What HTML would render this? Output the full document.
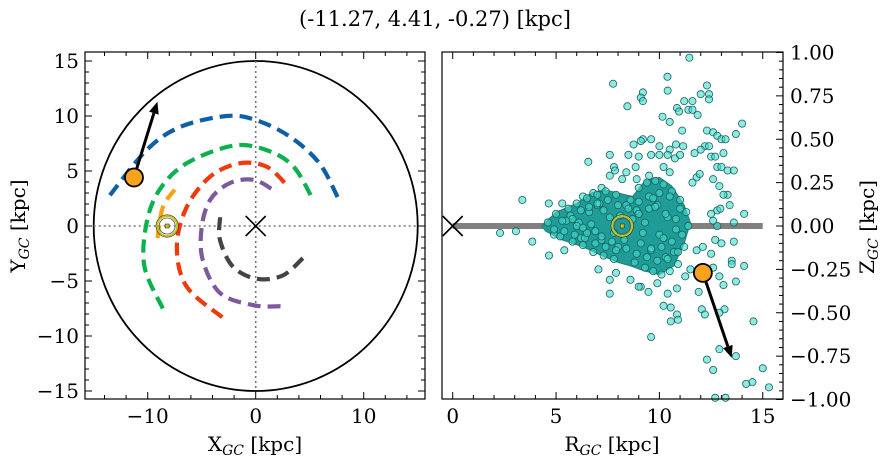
<!DOCTYPE html>
<html><head><meta charset="utf-8"><style>
html,body{margin:0;padding:0;background:#fff;}
svg{display:block;font-family:"DejaVu Serif","Liberation Serif",serif;}
</style></head><body>
<svg id="c" width="887" height="464" viewBox="0 0 887 464" xmlns="http://www.w3.org/2000/svg">
<text x="435" y="26" font-size="21" text-anchor="middle">(-11.27, 4.41, -0.27) [kpc]</text>
<g id="left"></g>
<g id="right"></g>
<text x="255" y="451" font-size="20" text-anchor="middle">X<tspan font-size="14" font-style="italic" dy="4">GC</tspan><tspan dy="-4"> [kpc]</tspan></text>
<text transform="translate(25,226) rotate(-90)" font-size="20" text-anchor="middle">Y<tspan font-size="14" font-style="italic" dy="4">GC</tspan><tspan dy="-4"> [kpc]</tspan></text>
<text x="612" y="451" font-size="20" text-anchor="middle">R<tspan font-size="14" font-style="italic" dy="4">GC</tspan><tspan dy="-4"> [kpc]</tspan></text>
<text transform="translate(874,227) rotate(-90)" font-size="20" text-anchor="middle">Z<tspan font-size="14" font-style="italic" dy="4">GC</tspan><tspan dy="-4"> [kpc]</tspan></text>
</svg>
<script>
// ---- data ----
const armBlue = [[-13.5,2.8],[-10.1,6.9],[-7.0,9.0],[-2.7,10.0],[0.1,9.6],[3.2,8.1],[5.9,5.7],[7.6,2.6]];
const armGreen = [[-8.6,-7.5],[-10.3,-3.7],[-10.1,0.3],[-8.9,3.3],[-6.4,5.7],[-2.1,7.3],[1.0,6.9],[3.5,5.4],[5.3,2.4]];
const armRed = [[-3.1,-8.3],[-6.4,-5.5],[-7.3,-1.9],[-6.4,1.7],[-4.2,4.5],[-1.5,5.7],[1.0,5.4],[2.9,3.7]];
const armPurple = [[2.3,-7.3],[-0.2,-7.2],[-3.3,-6.1],[-4.9,-3.1],[-5.0,-0.1],[-4.2,2.4],[-2.4,3.9],[-0.2,4.2],[1.6,3.3]];
const armGray = [[-3.3,0.8],[-3.3,-1.3],[-2.1,-3.7],[0.1,-4.8],[2.5,-4.5],[4.4,-2.9]];
const armOrange = [[-9.1,-1.1],[-8.6,1.7],[-7.5,3.3]];
const objXYZ = [-11.27, 4.41, -0.27];
const objArrowXY = [-9.1, 11.3];
const objArrowRZ = [13.5, -0.76];
const sunXY = [-8.2, 0];
const sunRZ = [8.2, 0];
const xTicksL = [-10, 0, 10];
const yTicksL = [-15, -10, -5, 0, 5, 10, 15];
const xTicksR = [0, 5, 10, 15];
const yTicksR = [-1, -0.75, -0.5, -0.25, 0, 0.25, 0.5, 0.75, 1];
const starR = [11.45,7.76,10.39,12.3,10.4,8.45,9.2,9.1,9.2,12.0,12.4,12.4,11.2,11.6,10.85,10.95,11.4,11.85,11.6,10.15,10.5,14.0,11.1,12.3,12.6,12.8,13.0,13.2,13.7,9.6,9.2,9.1,8.75,10.0,10.5,10.8,11.15,8.5,7.6,9.0,9.6,10.0,10.4,10.75,11.0,6.56,12.2,12.4,12.5,12.7,13.1,12.0,11.7,12.8,13.0,13.3,13.6,7.8,8.4,7.85,8.85,3.37,2.29,3.06,3.85,4.65,5.3,4.66,5.4,4.9,14.1,13.6,13.3,13.4,12.8,12.95,12.5,12.6,12.8,12.7,13.0,13.6,13.5,13.5,14.1,13.7,12.5,12.6,12.3,12.9,13.1,11.9,12.05,12.2,13.15,12.9,14.55,13.7,12.9,12.3,12.6,15.0,14.5,14.2,15.3,12.7,13.2,9.6,7.6,9.1,9.47,10.4,10.85,10.2,10.55,10.85,10.55,10.9,8.6,9.0,9.9,11.25,11.5,11.8,12.1,7.05,7.6,7.9,12.9,13.1,12.6,11.8,11.95,11.6,7.2,6.8,6.3,7.6,8.2,8.9,9.5,10.2,10.5,
 5.0,5.6,6.0,6.5,7.0,7.4,7.9,8.6,9.0,9.4,9.8,10.2,10.6,11.0,11.3,5.2,5.8,6.3,6.8,7.3,7.8,8.8,9.3,9.7,10.1,10.5,10.9,11.2,6.1,6.9,7.6,9.5,10.0,10.4,10.8,4.6,4.9,5.5,6.6,7.2,8.0,8.9,9.6,10.3,11.1,11.4,9.2,9.9,10.7,8.4,7.0,6.2,
 5.3,5.7,6.2,6.6,7.1,7.5,8.0,8.5,9.0,9.5,10.0,10.5,11.0,5.4,5.9,6.4,6.9,7.4,7.9,8.4,8.9,9.4,9.9,10.4,10.9,6.0,6.7,7.3,8.1,8.7,9.3,9.8,10.3,10.8,6.5,7.2,7.7,8.3,9.1,9.6,10.1,10.6,5.8,6.3,7.0,7.8,9.0,9.7,10.2];
const starZ = [0.97,0.82,0.86,0.81,0.78,0.69,0.77,0.74,0.72,0.76,0.76,0.73,0.72,0.72,0.68,0.66,0.67,0.64,0.67,0.63,0.60,0.59,0.55,0.55,0.54,0.52,0.50,0.50,0.53,0.50,0.50,0.49,0.47,0.46,0.44,0.47,0.46,0.41,0.41,0.40,0.41,0.41,0.41,0.39,0.41,0.37,0.46,0.46,0.40,0.40,0.42,0.44,0.42,0.34,0.34,0.32,0.32,0.34,0.31,0.32,0.34,0.15,-0.04,-0.03,-0.09,0.13,0.13,-0.17,-0.14,-0.05,0.07,0.02,0.18,0.12,0.09,0.10,0.07,0.03,0.0,-0.08,-0.10,-0.09,-0.20,-0.22,-0.23,-0.32,-0.16,-0.24,-0.27,-0.29,-0.34,-0.38,-0.48,-0.51,-0.48,-0.50,-0.55,-0.75,-0.71,-0.77,-0.83,-0.82,-0.90,-0.91,-0.93,-0.99,-0.99,-0.64,-0.39,-0.35,-0.38,-0.39,-0.36,-0.46,-0.47,-0.51,-0.55,-0.54,-0.31,-0.35,-0.33,-0.29,-0.25,-0.14,-0.12,-0.25,-0.31,-0.27,0.23,0.18,0.27,0.28,0.30,0.25,0.22,0.19,0.17,0.29,0.27,0.27,0.29,0.34,0.31,
 0.07,0.10,0.13,0.16,0.18,0.20,0.18,0.15,0.22,0.25,0.26,0.24,0.20,0.15,0.08,-0.06,-0.09,-0.11,-0.15,-0.17,-0.19,-0.21,-0.24,-0.26,-0.28,-0.26,-0.22,-0.12,0.02,-0.03,0.05,0.10,-0.05,0.05,-0.02,0.02,-0.02,0.03,0.08,-0.08,-0.12,0.09,-0.14,-0.18,-0.05,0.0,-0.04,0.12,-0.15,0.12,0.12,-0.07,
 0.03,0.06,0.09,0.11,0.13,0.15,0.12,0.10,0.14,0.17,0.19,0.17,0.10,-0.03,-0.05,-0.07,-0.10,-0.12,-0.14,-0.13,-0.16,-0.18,-0.20,-0.19,-0.15,0.0,0.01,0.09,0.06,0.04,0.02,0.11,0.07,0.04,-0.04,-0.06,-0.09,-0.08,-0.10,-0.13,-0.12,-0.09,0.04,-0.01,0.13,-0.04,0.07,0.16,-0.07];
const coreOutline = [[4.3,0],[5,0.08],[6,0.13],[6.7,0.19],[7.3,0.21],[8,0.19],[8.7,0.17],[9.3,0.26],[10,0.28],[10.6,0.23],[11.2,0.12],[11.5,0.02],[11.2,-0.1],[10.7,-0.23],[10,-0.28],[9.3,-0.26],[8.6,-0.23],[8,-0.21],[7.2,-0.17],[6.3,-0.12],[5.3,-0.08],[4.5,-0.03]];

// ---- scales ----
const lx = x => 255.7 + x*10.8, ly = y => 226 - y*11.0;
const rx = r => 452.7 + r*20.67, rz = z => 226 - z*173.5;
const NS = 'http://www.w3.org/2000/svg';
function mk(parent, tag, attrs, text){
  const e = document.createElementNS(NS, tag);
  for (const k in attrs) e.setAttribute(k, attrs[k]);
  if (text !== undefined) e.textContent = text;
  parent.appendChild(e); return e;
}
const L = document.getElementById('left'), R = document.getElementById('right');

// ---- left panel ----
let e;
e = mk(L,'ellipse',{cx:lx(0),cy:ly(0),rx:15*10.8,ry:15*11,fill:'none',stroke:'#000','stroke-width':1.8});


e = mk(L,'line',{x1:lx(0),y1:ly(15),x2:lx(0),y2:ly(-15),stroke:'#777','stroke-width':1.6,'stroke-dasharray':'2,3'});


e = mk(L,'line',{x1:lx(-15),y1:ly(0),x2:lx(15),y2:ly(0),stroke:'#777','stroke-width':1.6,'stroke-dasharray':'2,3'});



function smoothPath(pts){
  const p = pts.map(q=>[lx(q[0]),ly(q[1])]);
  let d = 'M'+p[0][0]+','+p[0][1];
  for (let i=0;i<p.length-1;i++){
    const p0=p[i-1]||p[i], p1=p[i], p2=p[i+1], p3=p[i+2]||p2;
    const c1=[p1[0]+(p2[0]-p0[0])/6, p1[1]+(p2[1]-p0[1])/6];
    const c2=[p2[0]-(p3[0]-p1[0])/6, p2[1]-(p3[1]-p1[1])/6];
    d+=' C'+c1+' '+c2+' '+p2;
  }
  return d;
}
const arms = [[armBlue,'#0e5fa6','arm-blue'],[armGreen,'#0ab24e','arm-green'],[armRed,'#f0390c','arm-red'],[armPurple,'#7d5a9c','arm-purple'],[armGray,'#444444','arm-gray'],[armOrange,'#f5a21b','arm-orange']];
arms.forEach(a=>{
  const p = mk(L,'path',{d:smoothPath(a[0]),fill:'none',stroke:a[1],'stroke-width':4.2,'stroke-dasharray':'13,7'});
  
  
});
function cross(g,cx,cy,s,name){
  const gg = mk(g,'g',{stroke:'#000','stroke-width':1.6});
  
  
  mk(gg,'line',{x1:cx-s,y1:cy-s,x2:cx+s,y2:cy+s});
  mk(gg,'line',{x1:cx-s,y1:cy+s,x2:cx+s,y2:cy-s});
}
cross(L,lx(0),ly(0),10,'galactic-center-marker');
function sun(g,cx,cy,name){
  const gg = mk(g,'g',{});
  
  
  mk(gg,'circle',{cx:cx,cy:cy,r:11,fill:'none',stroke:'#222','stroke-width':1});
  mk(gg,'circle',{cx:cx,cy:cy,r:10,fill:'none',stroke:'#c8c020','stroke-width':2});
  mk(gg,'circle',{cx:cx,cy:cy,r:8,fill:'none',stroke:'#555','stroke-width':0.8});
  mk(gg,'rect',{x:cx-2,y:cy-2,width:4,height:4,fill:'#c8c020',stroke:'#333','stroke-width':0.6});
}
sun(L,lx(sunXY[0]),ly(sunXY[1]),'sun-marker-xy');
function arrow(g,x1,y1,x2,y2,name){
  const gg = mk(g,'g',{});
  
  
  const ang=Math.atan2(y2-y1,x2-x1), h=12, w=5;
  const bx=x2-h*Math.cos(ang), by=y2-h*Math.sin(ang);
  mk(gg,'line',{x1:x1,y1:y1,x2:bx,y2:by,stroke:'#000','stroke-width':3});
  const px=-Math.sin(ang)*w, py=Math.cos(ang)*w;
  mk(gg,'polygon',{points:`${x2},${y2} ${bx+px},${by+py} ${bx-px},${by-py}`,fill:'#000'});
}
const objR = Math.hypot(objXYZ[0],objXYZ[1]);
arrow(L,lx(objXYZ[0]),ly(objXYZ[1]),lx(objArrowXY[0]),ly(objArrowXY[1]),'velocity-arrow-xy');
e = mk(L,'circle',{cx:lx(objXYZ[0]),cy:ly(objXYZ[1]),r:9,fill:'#f9a21b',stroke:'#000','stroke-width':1.8});



// ---- right panel ----
e = mk(R,'line',{x1:rx(0),y1:rz(0),x2:rx(15),y2:rz(0),stroke:'#808080','stroke-width':6});


const cp = coreOutline.map(q=>rx(q[0])+','+rz(q[1])).join(' ');
e = mk(R,'polygon',{points:cp,fill:'#1f9c97',stroke:'#2a7a76','stroke-width':1,'stroke-linejoin':'round'});


const sg = mk(R,'g',{});


for (let i=0;i<starR.length;i++){
  const c = mk(sg,'circle',{cx:rx(starR[i]),cy:rz(starZ[i]),r:3.6,fill:'rgba(64,224,208,0.6)',stroke:'#1f5e5b','stroke-width':0.8});
  
  
}
cross(R,rx(0),rz(0),10,'galactic-center-marker-rz');
sun(R,rx(sunRZ[0]),rz(sunRZ[1]),'sun-marker-rz');
arrow(R,rx(objR),rz(objXYZ[2]),rx(objArrowRZ[0]),rz(objArrowRZ[1]),'velocity-arrow-rz');
e = mk(R,'circle',{cx:rx(objR),cy:rz(objXYZ[2]),r:9,fill:'#f9a21b',stroke:'#000','stroke-width':1.8});



// ---- axes frames & ticks ----
function frame(g,x0,y0,x1,y1,name){
  const r = mk(g,'rect',{x:x0,y:y0,width:x1-x0,height:y1-y0,fill:'none',stroke:'#000','stroke-width':1.2});
  
  
}
const tk = (g,x1,y1,x2,y2)=>mk(g,'line',{x1,y1,x2,y2,stroke:'#000','stroke-width':1});
const LX0=85,LX1=425,LY0=52,LY1=399;
frame(L,LX0,LY0,LX1,LY1,'xy-axes-frame');
for (let v=-14; v<=14; v+=2){ const x=lx(v); const M=v%10===0; const s=M?7:4; tk(L,x,LY1,x,LY1-s); tk(L,x,LY0,x,LY0+s); }
for (let v=-15; v<=15; v+=1){ const y=ly(v); const M=v%5===0; const s=M?7:4; tk(L,LX0,y,LX0+s,y); tk(L,LX1,y,LX1-s,y); }
const lt = mk(L,'g',{'font-size':20});


xTicksL.forEach(v=>mk(lt,'text',{x:lx(v),y:423,'text-anchor':'middle'},(v<0?'\u2212':'')+Math.abs(v)));
yTicksL.forEach(v=>mk(lt,'text',{x:79,y:ly(v)+7,'text-anchor':'end'},(v<0?'\u2212':'')+Math.abs(v)));
const RX0=442,RX1=783,RY0=52,RY1=399;
frame(R,RX0,RY0,RX1,RY1,'rz-axes-frame');
for (let v=0; v<=15; v+=1){ const x=rx(v); const M=v%5===0; const s=M?7:4; tk(R,x,RY1,x,RY1-s); tk(R,x,RY0,x,RY0+s); }
for (let i=-20;i<=20;i++){ const v=i*0.05; const y=rz(v); const M=i%5===0; const s=M?7:4; tk(R,RX1,y,RX1-s,y); }
const rt = mk(R,'g',{'font-size':20});


xTicksR.forEach(v=>mk(rt,'text',{x:rx(v),y:423,'text-anchor':'middle'},String(v)));
yTicksR.forEach(v=>mk(rt,'text',{x:790,y:rz(v)+7,'text-anchor':'start'},(v<0?'\u2212':'')+Math.abs(v).toFixed(2)));
</script>
</body></html>
